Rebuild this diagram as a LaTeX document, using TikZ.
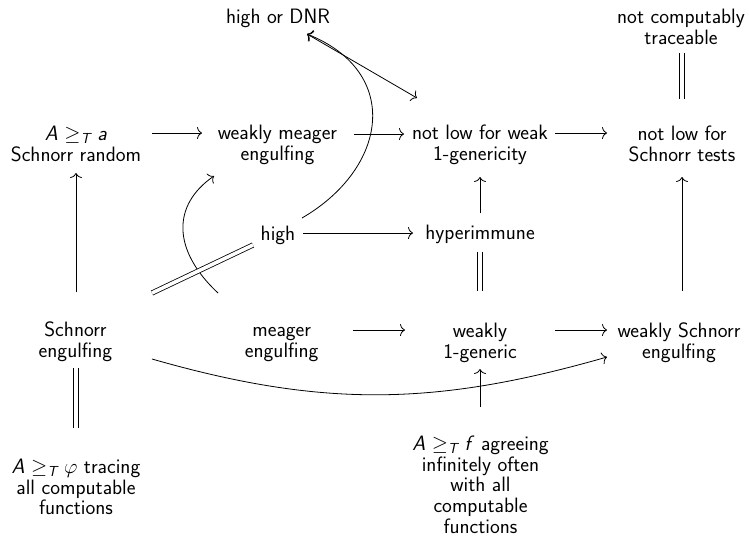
\documentclass[tikz,border=0pt]{standalone}
\usepackage{fix-cm}
\usepackage{amsmath}
\usepackage{fontspec}
\usetikzlibrary{arrows.meta}
\newcommand{\geT}{$\geq_{\text{\itshape T}}$}
% centred lines, anchored near the baseline of the first line
\newcommand{\ml}[1]{\raisebox{3.5pt}{\begin{tabular}[t]{@{}c@{}}#1\end{tabular}}}
\tikzset{
  lbl/.style={font=\sffamily\fontsize{20.8}{20.5}\selectfont, anchor=base, inner sep=0pt},
  imp/.style={line width=0.8pt, -{To[length=5pt,width=12pt]}},
  both/.style={line width=0.8pt, {To[length=5pt,width=12pt]}-{To[length=5pt,width=12pt]}},
  eq/.style={double, double distance=3.6pt, line width=0.8pt}
}
\begin{document}
\begin{tikzpicture}[x=1pt,y=-1pt]
\useasboundingbox (0,0) rectangle (749,539);
% statements
\node[lbl] (DNR) at (278,23) {high or DNR};
\node[lbl] (NCT) at (681,27) {\ml{not computably\\traceable}};
\node[lbl] (SR)  at (76,144) {\ml{\textit{A} \geT\ \textit{a}\\Schnorr random}};
\node[lbl] (WME) at (277.5,143) {\ml{weakly meager\\engulfing}};
\node[lbl] (NLW) at (480,143) {\ml{not low for weak\\1-genericity}};
\node[lbl] (NLS) at (682,144) {\ml{not low for\\Schnorr tests}};
\node[lbl] (HIGH) at (278,240) {high};
\node[lbl] (HYP) at (480,239) {hyperimmune};
\node[lbl] (SE)  at (75.5,340) {\ml{Schnorr\\engulfing}};
\node[lbl] (ME)  at (281.7,340) {\ml{meager\\engulfing}};
\node[lbl] (W1G) at (480,341) {\ml{weakly\\1-generic}};
\node[lbl] (WSE) at (679,341) {\ml{weakly Schnorr\\engulfing}};
\node[lbl] (PHI) at (76,477) {\ml{\textit{A} \geT\ $\varphi$ tracing\\all computable\\functions}};
\node[lbl] (F)   at (480.5,454) {\ml{\textit{A} \geT\ \textit{f} agreeing\\infinitely often\\with all\\computable\\functions}};
% implications
\draw[imp] ([shift={(76,-11)}]SR.base) -- ([shift={(-75.5,-10)}]WME.base);
\draw[imp] ([shift={(76.5,-9)}]WME.base) -- ([shift={(-76,-9)}]NLW.base);
\draw[imp] ([shift={(75,-10)}]NLW.base) -- ([shift={(-75,-11)}]NLS.base);
\draw[imp] ([shift={(25,-7)}]HIGH.base) -- ([shift={(-67,-6)}]HYP.base);
\draw[imp] ([shift={(71.3,-10)}]ME.base) -- ([shift={(-75,-11)}]W1G.base);
\draw[imp] ([shift={(75,-11)}]W1G.base) -- ([shift={(-72,-11)}]WSE.base);
\draw[imp] ([shift={(0.5,-48)}]SE.base) -- ([shift={(0,29)}]SR.base);
\draw[imp] ([shift={(0,-26)}]HYP.base) -- ([shift={(0,34)}]NLW.base);
\draw[imp] ([shift={(3,-50)}]WSE.base) -- ([shift={(0,33)}]NLS.base);
\draw[imp] ([shift={(-0.5,-47)}]F.base) -- ([shift={(0,28)}]W1G.base);
\draw[both] ([shift={(29,11)}]DNR.base) -- ([shift={(-63,-45)}]NLW.base);
% curved implications
\draw[imp] ([shift={(24,-22)}]HIGH.base)
  .. controls ([shift={(110,-72)}]HIGH.base) and ([shift={(124,-168)}]HIGH.base)
  .. ([shift={(29,11)}]DNR.base);
\draw[imp] ([shift={(-63.7,-47)}]ME.base)
  .. controls ([shift={(-109.7,-90)}]ME.base) and ([shift={(-109.7,-135)}]ME.base)
  .. ([shift={(-63.5,33)}]WME.base);
\draw[imp] ([shift={(76.5,19)}]SE.base)
  .. controls ([shift={(247.5,68)}]SE.base) and ([shift={(360.5,66)}]SE.base)
  .. ([shift={(-72,16)}]WSE.base);
% equivalences
\draw[eq] ([shift={(0,13)}]HYP.base) -- ([shift={(0,-50)}]W1G.base);
\draw[eq] ([shift={(1,26)}]NCT.base) -- ([shift={(0,-45)}]NLS.base);
\draw[eq] ([shift={(0.5,28)}]SE.base) -- ([shift={(0,-49)}]PHI.base);
\draw[eq] ([shift={(76.5,-47)}]SE.base) -- ([shift={(-25,5)}]HIGH.base);
\end{tikzpicture}
\end{document}
